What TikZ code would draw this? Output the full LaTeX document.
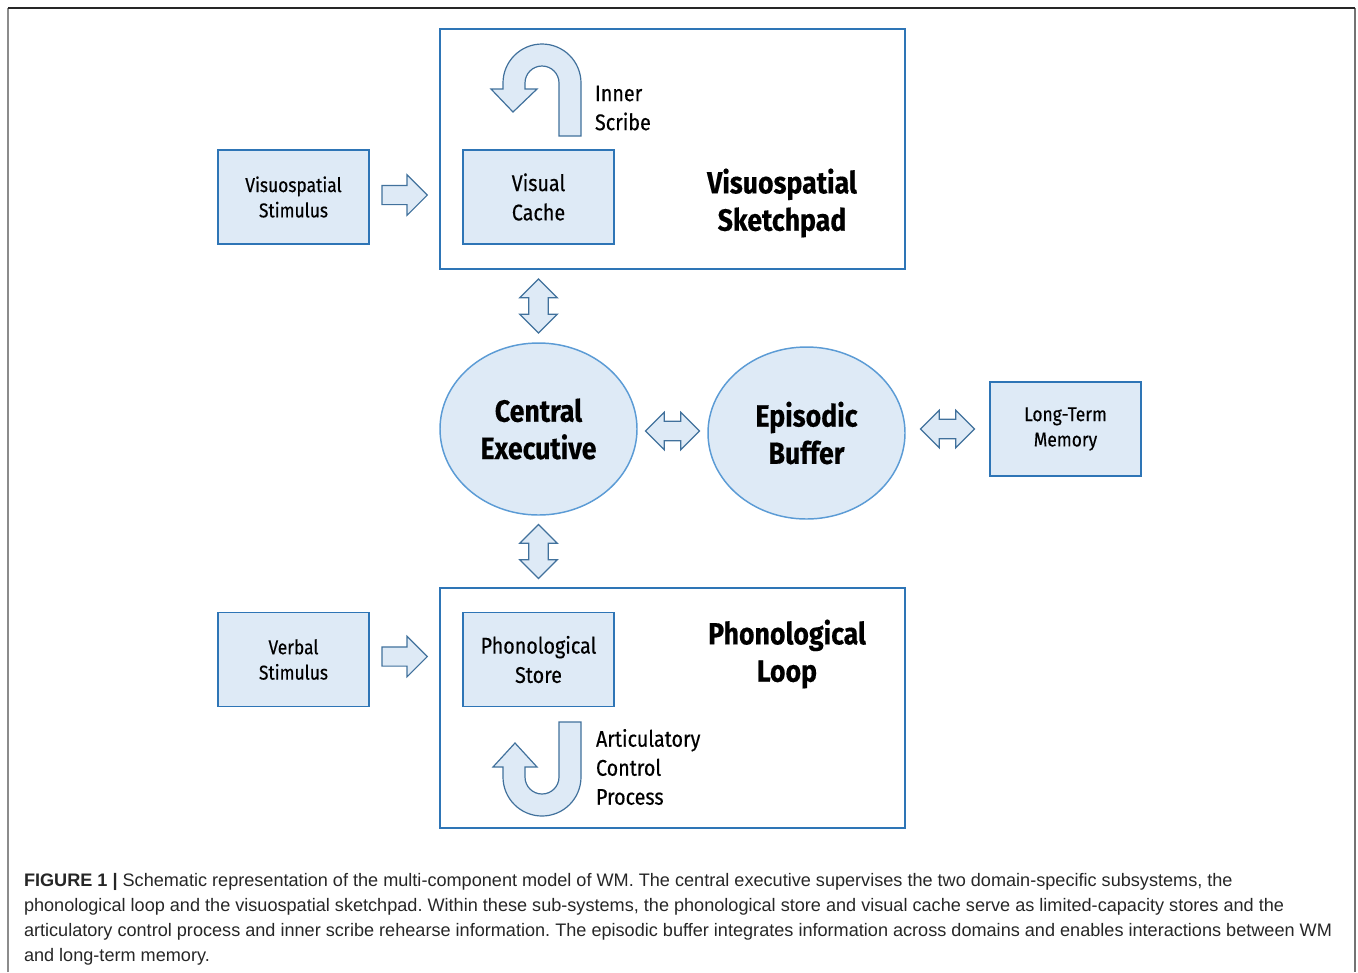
\documentclass[tikz,border=0pt]{standalone}
\usepackage{fontspec}
\setmainfont{Liberation Sans}
\newfontfamily\boxfont[FakeStretch=0.87,FakeBold=0.4]{Fira Sans}
\newfontfamily\capfont{Liberation Sans}
\usetikzlibrary{calc,positioning,shapes.geometric,shapes.arrows}
\definecolor{boxfill}{RGB}{222,234,246}
\definecolor{boxline}{RGB}{46,117,182}
\definecolor{ovalline}{RGB}{91,155,213}
\definecolor{arrline}{RGB}{65,113,156}
\tikzset{
  smallbox/.style={draw=boxline, fill=boxfill, line width=1.1pt, minimum width=113.25pt,
    minimum height=70.5pt, align=center, font=\boxfont\fontsize{15}{19}\selectfont},
  storebox/.style={smallbox, font=\boxfont\fontsize{17}{22}\selectfont},
  bigbox/.style={draw=boxline, fill=white, line width=1.1pt, minimum width=348.75pt,
    minimum height=180pt},
  oval/.style={ellipse, draw=ovalline, fill=boxfill, line width=1.1pt, minimum width=147.75pt,
    minimum height=129pt, align=center, font=\boxfont\bfseries\fontsize{23}{28}\selectfont},
  title/.style={align=center, font=\boxfont\bfseries\fontsize{23}{28}\selectfont},
  sidetext/.style={align=left, font=\boxfont\fontsize{17}{21.75}\selectfont},
  sarrow/.style={single arrow, draw=arrline, fill=boxfill, line width=0.9pt, inner xsep=0pt,
    inner ysep=6.75pt, minimum width=0pt, minimum height=34pt, single arrow head extend=8pt},
  darrow/.style={double arrow, draw=arrline, fill=boxfill, line width=0.9pt, inner xsep=0pt,
    inner ysep=6.9pt, minimum width=0pt, minimum height=40.5pt, double arrow head extend=6.75pt},
  uarrow/.style={draw=arrline, fill=boxfill, line width=0.9pt, line join=miter}
}
\begin{document}
\begin{tikzpicture}[x=0.75pt, y=-0.75pt, inner sep=0pt, outer sep=0pt]
    \useasboundingbox (0,0) rectangle (1358,972);
    % frame
    \draw[black!45, line width=0.8pt] (8,972) -- (8,8);
    \draw[black!55, line width=1.2pt] (1355,8) -- (1355,972);
    \draw[black!85, line width=0.8pt] (8,8) -- (1355,8);

    % visuospatial sketchpad
    \node[bigbox] (vsp) at (672.5,149) {};
    \node[smallbox] (vs_stim) at (293.5,197) {Visuospatial\\Stimulus};
    \node[storebox] (vis_cache) at (538.5,197) {Visual\\Cache};
    \node[title] (vsp_title) at (782,203) {Visuospatial\\Sketchpad};
    \node[sarrow, anchor=tail] (vs_in) at ($(vs_stim.east)+(13,-2)$) {};

    % inner scribe
    \draw[uarrow] (581,136) -- (581,83) arc (0:-180:39) -- (503,89) -- (491,89) -- (513,112)
      -- (537,89) -- (525,89) -- (525,83) arc (-180:0:17) -- (559,136) -- cycle;
    \node[sidetext, anchor=west] (scribe) at (595,108) {Inner\\Scribe};

    % central executive and episodic buffer
    \node[oval] (ce) at (538.5,429) {Central\\Executive};
    \node[oval] (eb) at (806.5,433) {Episodic\\Buffer};
    \node[smallbox] (ltm) at (1065.5,429) {Long-Term\\Memory};
    \node[darrow] (ce_eb) at ($(ce.east)!0.5!(eb.west)$) {};
    \node[darrow] (eb_ltm) at ($(eb.east |- ltm.west)!0.5!(ltm.west)$) {};

    % phonological loop
    \node[bigbox] (pl) at (672.5,708) {};
    \node[smallbox] (verb_stim) at (293.5,659.5) {Verbal\\Stimulus};
    \node[storebox] (ph_store) at (538.5,659.5) {Phonological\\Store};
    \node[title] (pl_title) at (787,654) {Phonological\\Loop};
    \node[sarrow, anchor=tail] (verb_in) at ($(verb_stim.east)+(13,-3)$) {};

    % articulatory control
    \draw[uarrow] (559,722) -- (559,777) arc (0:180:17) -- (525,767) -- (537,767) -- (515,743)
      -- (493,767) -- (503,767) -- (503,777) arc (180:0:39) -- (581,722) -- cycle;
    \node[sidetext, anchor=west] (artic) at (596,767) {Articulatory\\Control\\Process};

    % links to central executive
    \node[darrow, rotate=90] (vsp_ce) at ($(vsp.south -| ce.north)!0.5!(ce.north)$) {};
    \node[darrow, rotate=90] (ce_pl) at ($(ce.south)!0.5!(pl.north -| ce.south)$) {};

    % caption
    \node[anchor=north west, align=left, text=black!85,
      font=\capfont\frenchspacing\fontsize{13.58}{18.75}\selectfont] (caption) at (24,873)
    {\textbf{FIGURE 1 |} Schematic representation of the multi-component model of WM. The central executive supervises the two domain-specific subsystems, the\\
    phonological loop and the visuospatial sketchpad. Within these sub-systems, the phonological store and visual cache serve as limited-capacity stores and the\\
    articulatory control process and inner scribe rehearse information. The episodic buffer integrates information across domains and enables interactions between WM\\
    and long-term memory.};
\end{tikzpicture}
\end{document}
